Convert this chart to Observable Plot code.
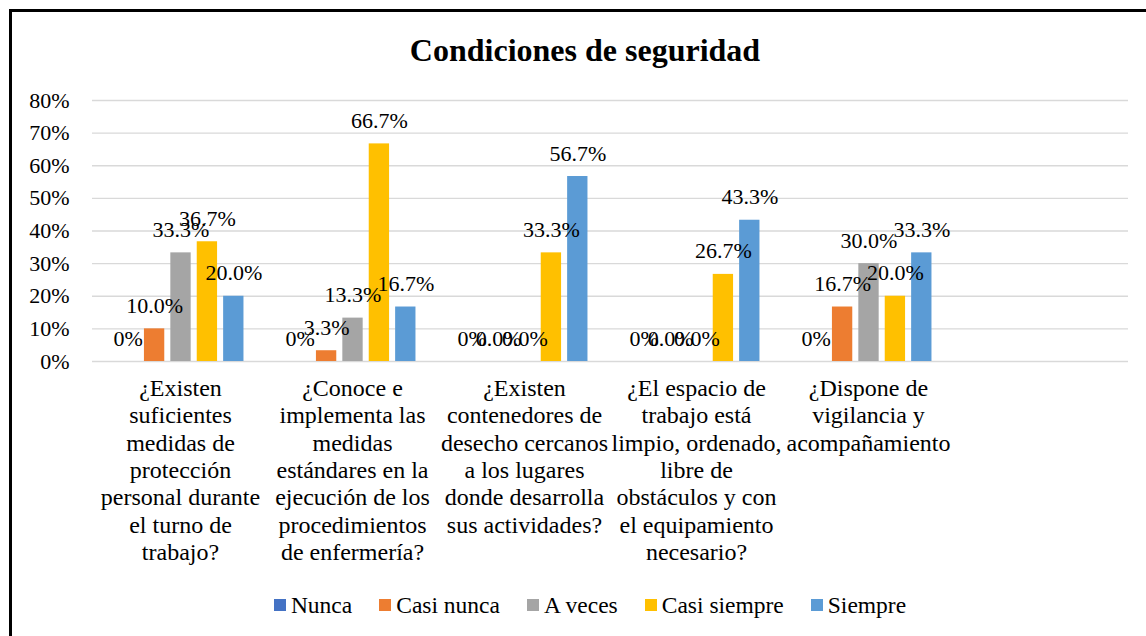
<!DOCTYPE html>
<html><head><meta charset="utf-8">
<script src="https://cdn.jsdelivr.net/npm/d3@7"></script>
<script src="https://cdn.jsdelivr.net/npm/@observablehq/plot@0.6"></script>
<style>
html,body{margin:0;padding:0;background:#fff;width:1146px;height:636px;overflow:hidden;position:relative;font-family:"Liberation Serif","Times New Roman",serif;}
#frame{position:absolute;left:9px;top:9px;width:1200px;height:700px;border:3px solid #000;box-sizing:border-box;}
#title{position:absolute;left:0;top:30px;width:1170px;text-align:center;font-weight:bold;font-size:32px;line-height:40px;color:#000;}
#chart{position:absolute;left:0;top:75px;}
#chart svg, #chart svg text, #chart svg tspan{font-family:"Liberation Serif","Times New Roman",serif !important;}
#legend{position:absolute;left:0;top:590px;width:1180px;height:30px;display:flex;justify-content:center;align-items:center;gap:27px;font-size:23.5px;color:#000;}
.item{display:flex;align-items:center;gap:5px;white-space:nowrap;}
.sw{width:12px;height:12px;flex:none;}
</style></head><body>
<div id="frame"></div>
<div id="title">Condiciones de seguridad</div>
<div id="chart"></div>
<div id="legend"></div>
<script>
const categories = [
  "¿Existen\nsuficientes\nmedidas de\nprotección\npersonal durante\nel turno de\ntrabajo?",
  "¿Conoce e\nimplementa las\nmedidas\nestándares en la\nejecución de los\nprocedimientos\nde enfermería?",
  "¿Existen\ncontenedores de\ndesecho cercanos\na los lugares\ndonde desarrolla\nsus actividades?",
  "¿El espacio de\ntrabajo está\nlimpio, ordenado,\nlibre de\nobstáculos y con\nel equipamiento\nnecesario?",
  "¿Dispone de\nvigilancia y\nacompañamiento"
];
const series = ["Nunca", "Casi nunca", "A veces", "Casi siempre", "Siempre"];
const colors = ["#4472C4", "#ED7D31", "#A5A5A5", "#FFC000", "#5B9BD5"];
const nunca       = [0, 0, 0, 0, 0];
const casiNunca   = [10.0, 3.3, 0, 0, 16.7];
const aVeces      = [33.3, 13.3, 0, 0, 30.0];
const casiSiempre = [36.7, 66.7, 33.3, 26.7, 20.0];
const siempre     = [20.0, 16.7, 56.7, 43.3, 33.3];
const yTicks = [0, 10, 20, 30, 40, 50, 60, 70, 80];

const values = [nunca, casiNunca, aVeces, casiSiempre, siempre];
const data = series.flatMap((s, i) => categories.map((c, j) => ({category: c, series: s, value: values[i][j]})));
const label = d => d.series === "Nunca" ? Math.round(d.value) + "%" : d.value.toFixed(1) + "%";

const W = 1146, H = 500, mL = 92, mR = 18, mT = 25, mB = 214;
const bandW = (W - mL - mR) / (categories.length + 1);
const barW = 21, stride = 26.4;
const inset = (bandW - barW) / 2;
const serif = "'Liberation Serif', 'Times New Roman', serif";

const marks = [
  Plot.gridY(yTicks, {stroke: "#d9d9d9", strokeOpacity: 1, strokeWidth: 1.3}),
  Plot.axisY(yTicks, {tickSize: 0, tickPadding: 23, tickFormat: d => d + "%", fontSize: 22, fill: "#000", fontFamily: serif, label: null}),
  Plot.axisX({tickSize: 0, tickPadding: 15, fontSize: 24, lineHeight: 1.14, fill: "#000", fontFamily: serif, tickFormat: d => d, label: null})
];
series.forEach((s, i) => {
  const sub = data.filter(d => d.series === s);
  const dx = (i - 2) * stride + 0.5;
  marks.push(Plot.barY(sub, {x: "category", y: "value", fill: "series", dx, insetLeft: inset, insetRight: inset}));
});
series.forEach((s, i) => {
  const sub = data.filter(d => d.series === s);
  const dx = (i - 2) * stride + 0.5;
  marks.push(Plot.text(sub, {x: "category", y: "value", text: label, dx, dy: -23, lineAnchor: "middle", fontSize: 22, fill: "#000", fontFamily: serif}));
});

const chart = Plot.plot({
  width: W, height: H,
  marginLeft: mL, marginRight: mR, marginTop: mT, marginBottom: mB,
  style: {fontFamily: serif, fontSize: "22px", color: "#000", background: "transparent", overflow: "visible"},
  x: {domain: [...categories, " "], padding: 0, label: null},
  y: {domain: [0, 80], label: null},
  color: {domain: series, range: colors},
  marks
});
document.getElementById("chart").appendChild(chart);

const legend = document.getElementById("legend");
series.forEach((s, i) => {
  const it = document.createElement("div");
  it.className = "item";
  const sw = document.createElement("span");
  sw.className = "sw";
  sw.style.background = colors[i];
  const tx = document.createElement("span");
  tx.textContent = s;
  it.appendChild(sw); it.appendChild(tx);
  legend.appendChild(it);
});
</script>
</body></html>
